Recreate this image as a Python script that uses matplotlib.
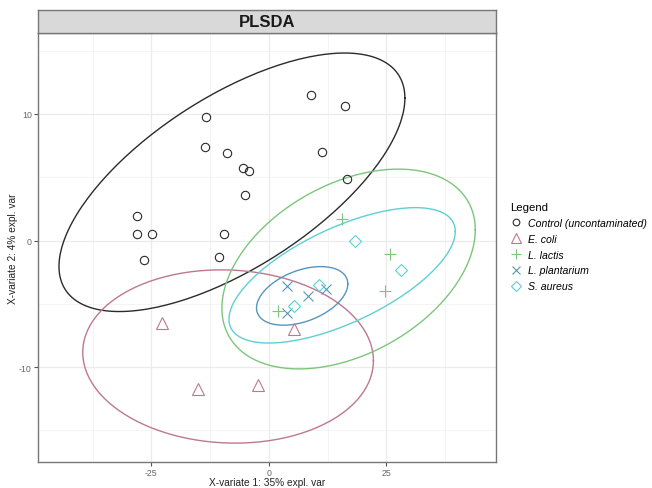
import numpy as np
import matplotlib.pyplot as plt

plt.rcParams['font.family'] = ['Liberation Sans', 'DejaVu Sans']
plt.rcParams['axes.unicode_minus'] = False

# PLS-DA scores (X-variate 1, X-variate 2)
control_x = [8.9, 16.2, -13.4, 11.3, -13.6, -8.9, -5.5, -4.3, -5.1, 16.6,
             -28.1, -28.1, -24.9, -9.6, -26.6, -10.6]
control_y = [11.5, 10.6, 9.8, 7.0, 7.4, 6.9, 5.7, 5.5, 3.6, 4.9,
             1.9, 0.55, 0.55, 0.55, -1.5, -1.3]
ecoli_x = [-22.8, -15.0, -2.3, 5.4]
ecoli_y = [-6.5, -11.75, -11.4, -7.0]
lactis_x = [1.9, 15.6, 25.7, 24.6]
lactis_y = [-5.6, 1.7, -1.1, -4.0]
plant_x = [3.9, 8.4, 12.1, 3.9]
plant_y = [-3.6, -4.4, -3.8, -5.7]
aureus_x = [5.4, 10.6, 28.0, 18.3]
aureus_y = [-5.2, -3.5, -2.3, 0.0]

groups = ['Control (uncontaminated)', 'E. coli', 'L. lactis', 'L. plantarium', 'S. aureus']
xs = [control_x, ecoli_x, lactis_x, plant_x, aureus_x]
ys = [control_y, ecoli_y, lactis_y, plant_y, aureus_y]
colors = ['#2B2B2B', '#BD7890', '#7CC67C', '#5696BC', '#5CD0D4']
markers = ['o', '^', '+', 'x', 'D']
msizes = [6, 8.5, 9, 7, 6.5]


def conf_ellipse(x, y, level_t=2.4477, n=200):
    # 95% ellipse like ellipse::ellipse (sqrt(qchisq(.95, 2)))
    x = np.asarray(x)
    y = np.asarray(y)
    cov = np.cov(x, y)
    L = np.linalg.cholesky(cov)
    t = np.linspace(0, 2 * np.pi, n)
    circ = np.vstack([np.cos(t), np.sin(t)])
    pts = L @ circ * level_t
    return pts[0] + x.mean(), pts[1] + y.mean()


fig = plt.figure(figsize=(6.52, 4.89), dpi=100)
ax = fig.add_axes([38 / 652, 1 - 463 / 489, 458 / 652, 429 / 489])

for gx, gy, c, m, s, g in zip(xs, ys, colors, markers, msizes, groups):
    ex, ey = conf_ellipse(gx, gy)
    ax.plot(ex, ey, color=c, lw=1.0, zorder=2)
    if m in ['+', 'x']:
        ax.plot(gx, gy, ls='none', marker=m, color=c, ms=s, mew=0.8, zorder=3, label=g)
    else:
        ax.plot(gx, gy, ls='none', marker=m, mfc='none', mec=c, ms=s, mew=0.8, zorder=3, label=g)

ax.set_xlim(-49.1, 48.3)
ax.set_ylim(-17.5, 16.4)
ax.set_xticks([-25, 0, 25])
ax.set_yticks([-10, 0, 10])
ax.set_xticks([-37.5, -12.5, 12.5, 37.5], minor=True)
ax.set_yticks([-15, -5, 5, 15], minor=True)
ax.grid(True, which='major', color='#EBEBEB', lw=0.9)
ax.grid(True, which='minor', color='#F2F2F2', lw=0.6)
ax.set_axisbelow(True)
ax.tick_params(which='major', length=3, color='#555555', labelsize=6.3, labelcolor='#666666', pad=1.5)
ax.tick_params(which='minor', length=0)
for sp in ax.spines.values():
    sp.set_color('#777777')
    sp.set_linewidth(1.0)
ax.set_xlabel('X-variate 1: 35% expl. var', fontsize=7.3, color='#222222', va='center')
ax.set_ylabel('X-variate 2: 4% expl. var', fontsize=7.3, color='#222222', va='center')
ax.xaxis.set_label_coords(0.5, (463 - 483.5) / 429)
ax.yaxis.set_label_coords((13 - 38) / 458, 0.5)

# facet strip with the title
strip = fig.add_axes([38 / 652, 1 - 34 / 489, 458 / 652, 23 / 489])
strip.set_facecolor('#D9D9D9')
strip.set_xticks([])
strip.set_yticks([])
for sp in strip.spines.values():
    sp.set_color('#777777')
    sp.set_linewidth(1.0)
strip.text(0.5, 0.48, 'PLSDA', ha='center', va='center', fontsize=12, fontweight='bold', color='#1A1A1A')

handles, labels = ax.get_legend_handles_labels()
leg = fig.legend(handles, labels, loc='upper left', bbox_to_anchor=(506 / 652, 1 - 199 / 489),
                 frameon=False, title='Legend', prop={'style': 'italic', 'size': 7.6},
                 handlelength=1.0, handletextpad=0.7, labelspacing=0.55, markerscale=0.8,
                 borderaxespad=0)
leg.get_title().set_fontsize(8.2)
leg._legend_box.align = 'left'

fig.savefig('out.png', dpi=100)
